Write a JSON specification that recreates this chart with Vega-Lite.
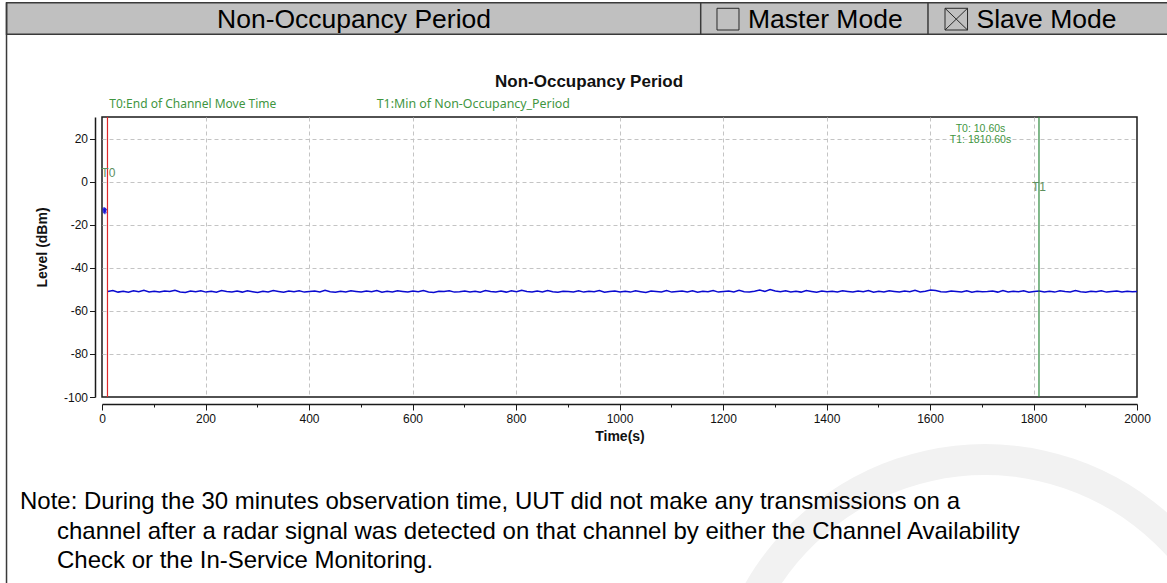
{
  "$schema": "https://vega.github.io/schema/vega-lite/v6.json",
  "width": 1035,
  "height": 280,
  "autosize": {"type": "none"},
  "padding": {"left": 102, "top": 117, "right": 30, "bottom": 186},
  "background": "white",
  "config": {
    "view": {"stroke": "#1a1a1a", "strokeWidth": 1.5},
    "axis": {
      "labelFont": "Liberation Sans",
      "labelFontSize": 12,
      "labelColor": "#111",
      "titleFont": "Liberation Sans",
      "titleFontSize": 14,
      "titleFontWeight": "bold",
      "titleColor": "#111",
      "domainColor": "#1a1a1a",
      "domainWidth": 1.5,
      "tickColor": "#1a1a1a",
      "tickWidth": 1
    }
  },
  "datasets": {
    "level": [
      {"t":11,"v":-51.0},{"t":21,"v":-50.6},{"t":31,"v":-51.3},{"t":41,"v":-50.9},{"t":51,"v":-51.4},{"t":61,"v":-50.7},{"t":71,"v":-51.1},{"t":81,"v":-50.5},{"t":91,"v":-51.2},{"t":101,"v":-50.9},
      {"t":111,"v":-51.3},{"t":121,"v":-50.8},{"t":131,"v":-51.0},{"t":141,"v":-50.4},{"t":151,"v":-51.2},{"t":161,"v":-51.5},{"t":171,"v":-50.8},{"t":181,"v":-51.1},{"t":191,"v":-50.7},{"t":201,"v":-51.3},
      {"t":211,"v":-50.9},{"t":221,"v":-51.4},{"t":231,"v":-50.6},{"t":241,"v":-51.0},{"t":251,"v":-51.2},{"t":261,"v":-50.8},{"t":271,"v":-51.3},{"t":281,"v":-50.7},{"t":291,"v":-51.1},{"t":301,"v":-51.5},
      {"t":311,"v":-50.9},{"t":321,"v":-51.2},{"t":331,"v":-50.6},{"t":341,"v":-51.0},{"t":351,"v":-51.4},{"t":361,"v":-50.8},{"t":371,"v":-51.1},{"t":381,"v":-50.7},{"t":391,"v":-51.3},{"t":401,"v":-51.0},
      {"t":411,"v":-50.8},{"t":421,"v":-51.2},{"t":431,"v":-50.5},{"t":441,"v":-51.1},{"t":451,"v":-51.4},{"t":461,"v":-50.9},{"t":471,"v":-51.2},{"t":481,"v":-50.7},{"t":491,"v":-51.0},{"t":501,"v":-51.3},
      {"t":511,"v":-50.8},{"t":521,"v":-51.1},{"t":531,"v":-50.6},{"t":541,"v":-51.4},{"t":551,"v":-50.9},{"t":561,"v":-51.2},{"t":571,"v":-50.7},{"t":581,"v":-51.0},{"t":591,"v":-51.3},{"t":601,"v":-50.8},
      {"t":611,"v":-51.1},{"t":621,"v":-50.6},{"t":631,"v":-51.2},{"t":641,"v":-51.5},{"t":651,"v":-50.9},{"t":661,"v":-51.0},{"t":671,"v":-50.7},{"t":681,"v":-51.3},{"t":691,"v":-51.1},{"t":701,"v":-50.8},
      {"t":711,"v":-51.2},{"t":721,"v":-50.9},{"t":731,"v":-51.4},{"t":741,"v":-50.6},{"t":751,"v":-51.0},{"t":761,"v":-51.2},{"t":771,"v":-50.8},{"t":781,"v":-51.3},{"t":791,"v":-50.7},{"t":801,"v":-51.1},
      {"t":811,"v":-50.4},{"t":821,"v":-51.0},{"t":831,"v":-51.3},{"t":841,"v":-50.8},{"t":851,"v":-51.2},{"t":861,"v":-50.6},{"t":871,"v":-51.1},{"t":881,"v":-51.4},{"t":891,"v":-50.9},{"t":901,"v":-51.0},
      {"t":911,"v":-51.2},{"t":921,"v":-50.7},{"t":931,"v":-51.3},{"t":941,"v":-50.9},{"t":951,"v":-51.1},{"t":961,"v":-50.6},{"t":971,"v":-51.4},{"t":981,"v":-51.0},{"t":991,"v":-50.8},{"t":1001,"v":-51.2},
      {"t":1011,"v":-50.9},{"t":1021,"v":-51.3},{"t":1031,"v":-50.7},{"t":1041,"v":-51.1},{"t":1051,"v":-51.5},{"t":1061,"v":-50.8},{"t":1071,"v":-51.0},{"t":1081,"v":-51.2},{"t":1091,"v":-50.6},{"t":1101,"v":-51.3},
      {"t":1111,"v":-51.0},{"t":1121,"v":-50.8},{"t":1131,"v":-51.2},{"t":1141,"v":-50.7},{"t":1151,"v":-51.4},{"t":1161,"v":-50.9},{"t":1171,"v":-51.1},{"t":1181,"v":-50.6},{"t":1191,"v":-51.3},{"t":1201,"v":-51.0},
      {"t":1211,"v":-50.8},{"t":1221,"v":-51.2},{"t":1231,"v":-50.5},{"t":1241,"v":-51.1},{"t":1251,"v":-51.3},{"t":1261,"v":-50.9},{"t":1271,"v":-50.3},{"t":1281,"v":-51.0},{"t":1291,"v":-50.1},{"t":1301,"v":-50.8},
      {"t":1311,"v":-51.1},{"t":1321,"v":-50.7},{"t":1331,"v":-51.2},{"t":1341,"v":-50.9},{"t":1351,"v":-51.3},{"t":1361,"v":-50.6},{"t":1371,"v":-51.0},{"t":1381,"v":-51.4},{"t":1391,"v":-50.8},{"t":1401,"v":-51.1},
      {"t":1411,"v":-50.9},{"t":1421,"v":-51.2},{"t":1431,"v":-50.7},{"t":1441,"v":-51.0},{"t":1451,"v":-51.3},{"t":1461,"v":-50.8},{"t":1471,"v":-51.1},{"t":1481,"v":-50.6},{"t":1491,"v":-51.4},{"t":1501,"v":-50.9},
      {"t":1511,"v":-51.2},{"t":1521,"v":-50.7},{"t":1531,"v":-51.0},{"t":1541,"v":-51.3},{"t":1551,"v":-50.8},{"t":1561,"v":-51.1},{"t":1571,"v":-50.5},{"t":1581,"v":-51.2},{"t":1591,"v":-50.9},{"t":1601,"v":-50.3},
      {"t":1611,"v":-50.6},{"t":1621,"v":-51.1},{"t":1631,"v":-51.3},{"t":1641,"v":-50.8},{"t":1651,"v":-51.0},{"t":1661,"v":-51.2},{"t":1671,"v":-50.7},{"t":1681,"v":-51.4},{"t":1691,"v":-50.9},{"t":1701,"v":-51.1},
      {"t":1711,"v":-51.0},{"t":1721,"v":-50.8},{"t":1731,"v":-51.3},{"t":1741,"v":-50.6},{"t":1751,"v":-51.2},{"t":1761,"v":-50.9},{"t":1771,"v":-51.1},{"t":1781,"v":-50.7},{"t":1791,"v":-51.4},{"t":1801,"v":-51.0},
      {"t":1811,"v":-50.8},{"t":1821,"v":-51.2},{"t":1831,"v":-50.9},{"t":1841,"v":-51.3},{"t":1851,"v":-50.7},{"t":1861,"v":-51.0},{"t":1871,"v":-51.2},{"t":1881,"v":-50.6},{"t":1891,"v":-51.1},{"t":1901,"v":-51.4},
      {"t":1911,"v":-50.9},{"t":1921,"v":-51.1},{"t":1931,"v":-50.7},{"t":1941,"v":-51.3},{"t":1951,"v":-51.0},{"t":1961,"v":-50.8},{"t":1971,"v":-51.2},{"t":1981,"v":-50.9},{"t":1991,"v":-51.1},{"t":2000,"v":-51.0}
    ],
    "start": [
      {"t":4,"v":-12.6},{"t":4.5,"v":-13.8},{"t":5,"v":-13.2},{"t":5.5,"v":-14.3},{"t":6,"v":-13.0}
    ]
  },
  "layer": [
    {
      "data": {"name": "level"},
      "mark": {"type": "line", "color": "#0a0ad0", "strokeWidth": 1.5, "interpolate": "linear"},
      "encoding": {
        "x": {
          "field": "t", "type": "quantitative",
          "scale": {"domain": [0, 2000], "nice": false, "zero": false},
          "axis": {
            "title": "Time(s)",
            "titlePadding": 5,
            "values": [0,100,200,300,400,500,600,700,800,900,1000,1100,1200,1300,1400,1500,1600,1700,1800,1900,2000],
            "labelExpr": "datum.value % 200 === 0 ? '' + datum.value : ''",
            "labelOverlap": false,
            "labelFlush": false,
            "labelPadding": 3,
            "offset": 7,
            "tickSize": {"condition": {"test": "datum.value % 200 === 0", "value": 6}, "value": 3},
            "grid": true,
            "gridColor": "#c4c4c4",
            "gridDash": [4, 3],
            "gridWidth": 1,
            "gridOpacity": {"condition": {"test": "datum.value % 200 === 0 && datum.value > 0 && datum.value < 2000", "value": 1}, "value": 0}
          }
        },
        "y": {
          "field": "v", "type": "quantitative",
          "scale": {"domain": [-100, 30], "nice": false, "zero": false},
          "axis": {
            "title": "Level (dBm)",
            "titlePadding": 14,
            "titleY": 130,
            "values": [-100,-90,-80,-70,-60,-50,-40,-30,-20,-10,0,10,20],
            "labelExpr": "datum.value % 20 === 0 ? '' + datum.value : ''",
            "labelOverlap": false,
            "labelFlush": false,
            "labelPadding": 2,
            "offset": 7,
            "tickSize": {"condition": {"test": "datum.value % 20 === 0", "value": 5.5}, "value": 3},
            "grid": true,
            "gridColor": "#c4c4c4",
            "gridDash": [4, 3],
            "gridWidth": 1,
            "gridOpacity": {"condition": {"test": "datum.value % 20 === 0 && datum.value > -100", "value": 1}, "value": 0}
          }
        }
      }
    },
    {
      "data": {"values": [{}]},
      "mark": {"type": "arc", "theta": -1.75, "theta2": 1.75, "radius": 245, "radius2": 276, "fill": "#f2f2f2"},
      "encoding": {
        "x": {"datum": 1706.3, "type": "quantitative"},
        "y": {"datum": -250.0, "type": "quantitative"}
      }
    },
    {
      "data": {"values": [{}]},
      "mark": {"type": "rect", "fill": "#c0c0c0", "stroke": "#3a3a3a", "strokeWidth": 1.5},
      "encoding": {
        "x": {"datum": -184.5, "type": "quantitative"},
        "x2": {"datum": 2060},
        "y": {"datum": 83.07, "type": "quantitative"},
        "y2": {"datum": 68.40}
      }
    },
    {
      "data": {"values": [{}]},
      "mark": {"type": "rule", "stroke": "#3a3a3a", "strokeWidth": 1.5},
      "encoding": {
        "x": {"datum": -184.5, "type": "quantitative"},
        "y": {"datum": 83.07, "type": "quantitative"},
        "y2": {"datum": -186.36}
      }
    },
    {
      "data": {"values": [{}]},
      "mark": {"type": "rule", "stroke": "#3a3a3a", "strokeWidth": 1.5},
      "encoding": {
        "x": {"datum": 1156.9, "type": "quantitative"},
        "y": {"datum": 83.07, "type": "quantitative"},
        "y2": {"datum": 68.40}
      }
    },
    {
      "data": {"values": [{}]},
      "mark": {"type": "rule", "stroke": "#3a3a3a", "strokeWidth": 1.5},
      "encoding": {
        "x": {"datum": 1596.1, "type": "quantitative"},
        "y": {"datum": 83.07, "type": "quantitative"},
        "y2": {"datum": 68.40}
      }
    },
    {
      "data": {"values": [{}]},
      "mark": {"type": "rect", "fill": "#c0c0c0", "stroke": "#2a2a2a", "strokeWidth": 1},
      "encoding": {
        "x": {"datum": 1188.4, "type": "quantitative"},
        "x2": {"datum": 1230.9},
        "y": {"datum": 80.47, "type": "quantitative"},
        "y2": {"datum": 70.39}
      }
    },
    {
      "data": {"values": [{}]},
      "mark": {"type": "rect", "fill": "#c0c0c0", "stroke": "#2a2a2a", "strokeWidth": 1},
      "encoding": {
        "x": {"datum": 1629.0, "type": "quantitative"},
        "x2": {"datum": 1672.5},
        "y": {"datum": 80.47, "type": "quantitative"},
        "y2": {"datum": 70.39}
      }
    },
    {
      "data": {"values": [{}]},
      "mark": {"type": "rule", "stroke": "#2a2a2a", "strokeWidth": 1},
      "encoding": {
        "x": {"datum": 1629.0, "type": "quantitative"},
        "x2": {"datum": 1672.5},
        "y": {"datum": 80.47, "type": "quantitative"},
        "y2": {"datum": 70.39}
      }
    },
    {
      "data": {"values": [{}]},
      "mark": {"type": "rule", "stroke": "#2a2a2a", "strokeWidth": 1},
      "encoding": {
        "x": {"datum": 1629.0, "type": "quantitative"},
        "x2": {"datum": 1672.5},
        "y": {"datum": 70.39, "type": "quantitative"},
        "y2": {"datum": 80.47}
      }
    },
    {
      "data": {"values": [{"label": "Non-Occupancy Period"}]},
      "mark": {"type": "text", "font": "Liberation Sans", "fontSize": 26.5, "align": "center", "baseline": "alphabetic", "color": "#000"},
      "encoding": {
        "x": {"datum": 487.0, "type": "quantitative"},
        "y": {"datum": 71.18, "type": "quantitative"},
        "text": {"field": "label"}
      }
    },
    {
      "data": {"values": [{"label": "Master Mode"}]},
      "mark": {"type": "text", "font": "Liberation Sans", "fontSize": 26.5, "align": "left", "baseline": "alphabetic", "color": "#000"},
      "encoding": {
        "x": {"datum": 1248.3, "type": "quantitative"},
        "y": {"datum": 71.18, "type": "quantitative"},
        "text": {"field": "label"}
      }
    },
    {
      "data": {"values": [{"label": "Slave Mode"}]},
      "mark": {"type": "text", "font": "Liberation Sans", "fontSize": 26.5, "align": "left", "baseline": "alphabetic", "color": "#000"},
      "encoding": {
        "x": {"datum": 1689.9, "type": "quantitative"},
        "y": {"datum": 71.18, "type": "quantitative"},
        "text": {"field": "label"}
      }
    },
    {
      "data": {"values": [{"label": "Non-Occupancy Period"}]},
      "mark": {"type": "text", "font": "Liberation Sans", "fontSize": 17, "fontWeight": "bold", "align": "center", "baseline": "alphabetic", "color": "#111"},
      "encoding": {
        "x": {"datum": 941.1, "type": "quantitative"},
        "y": {"datum": 44.16, "type": "quantitative"},
        "text": {"field": "label"}
      }
    },
    {
      "data": {"values": [{"label": "T0:End of Channel Move Time"}]},
      "mark": {"type": "text", "font": "Noto Sans", "fontSize": 12, "align": "left", "baseline": "middle", "color": "#3f963f"},
      "encoding": {
        "x": {"datum": 14.1, "type": "quantitative"},
        "y": {"datum": 35.9, "type": "quantitative"},
        "text": {"field": "label"}
      }
    },
    {
      "data": {"values": [{"label": "T1:Min of Non-Occupancy_Period"}]},
      "mark": {"type": "text", "font": "Noto Sans", "fontSize": 12.4, "align": "left", "baseline": "middle", "color": "#3f963f"},
      "encoding": {
        "x": {"datum": 530.8, "type": "quantitative"},
        "y": {"datum": 35.9, "type": "quantitative"},
        "text": {"field": "label"}
      }
    },
    {
      "data": {"values": [{"t": 10.6}]},
      "mark": {"type": "rule", "stroke": "#e0282a", "strokeWidth": 1.2},
      "encoding": {
        "x": {"field": "t", "type": "quantitative"},
        "y": {"datum": -100, "type": "quantitative"},
        "y2": {"datum": 30}
      }
    },
    {
      "data": {"values": [{"t": 1810.6}]},
      "mark": {"type": "rule", "stroke": "#2e8a3e", "strokeWidth": 1.2},
      "encoding": {
        "x": {"field": "t", "type": "quantitative"},
        "y": {"datum": -100, "type": "quantitative"},
        "y2": {"datum": 30}
      }
    },
    {
      "data": {"values": [{"label": "T0: 10.60s"}]},
      "mark": {"type": "text", "font": "Liberation Sans", "fontSize": 10.5, "align": "center", "baseline": "middle", "color": "#3f963f"},
      "encoding": {
        "x": {"datum": 1697.6, "type": "quantitative"},
        "y": {"datum": 24.2, "type": "quantitative"},
        "text": {"field": "label"}
      }
    },
    {
      "data": {"values": [{"label": "T1: 1810.60s"}]},
      "mark": {"type": "text", "font": "Liberation Sans", "fontSize": 10.5, "align": "center", "baseline": "middle", "color": "#3f963f"},
      "encoding": {
        "x": {"datum": 1697.6, "type": "quantitative"},
        "y": {"datum": 19.1, "type": "quantitative"},
        "text": {"field": "label"}
      }
    },
    {
      "data": {"values": [{"label": "T0"}]},
      "mark": {"type": "text", "font": "Liberation Sans", "fontSize": 12, "align": "center", "baseline": "middle", "color": "#5d8f5d"},
      "encoding": {
        "x": {"datum": 12.2, "type": "quantitative"},
        "y": {"datum": 3.85, "type": "quantitative"},
        "text": {"field": "label"}
      }
    },
    {
      "data": {"values": [{"label": "T1"}]},
      "mark": {"type": "text", "font": "Liberation Sans", "fontSize": 12, "align": "center", "baseline": "middle", "color": "#5d8f5d"},
      "encoding": {
        "x": {"datum": 1810.6, "type": "quantitative"},
        "y": {"datum": -2.36, "type": "quantitative"},
        "text": {"field": "label"}
      }
    },
    {
      "data": {"name": "start"},
      "mark": {"type": "point", "shape": "cross", "size": 14, "filled": true, "color": "#1010d0"},
      "encoding": {
        "x": {"field": "t", "type": "quantitative"},
        "y": {"field": "v", "type": "quantitative"}
      }
    },
    {
      "data": {"values": [{"label": "Note: During the 30 minutes observation time, UUT did not make any transmissions on a"}]},
      "mark": {"type": "text", "font": "Liberation Sans", "fontSize": 24, "align": "left", "baseline": "middle", "color": "#000"},
      "encoding": {
        "x": {"datum": -158.5, "type": "quantitative"},
        "y": {"datum": -148.75, "type": "quantitative"},
        "text": {"field": "label"}
      }
    },
    {
      "data": {"values": [{"label": "channel after a radar signal was detected on that channel by either the Channel Availability"}]},
      "mark": {"type": "text", "font": "Liberation Sans", "fontSize": 24, "align": "left", "baseline": "middle", "color": "#000"},
      "encoding": {
        "x": {"datum": -87.0, "type": "quantitative"},
        "y": {"datum": -162.68, "type": "quantitative"},
        "text": {"field": "label"}
      }
    },
    {
      "data": {"values": [{"label": "Check or the In-Service Monitoring."}]},
      "mark": {"type": "text", "font": "Liberation Sans", "fontSize": 24, "align": "left", "baseline": "middle", "color": "#000"},
      "encoding": {
        "x": {"datum": -87.0, "type": "quantitative"},
        "y": {"datum": -176.14, "type": "quantitative"},
        "text": {"field": "label"}
      }
    }
  ]
}
